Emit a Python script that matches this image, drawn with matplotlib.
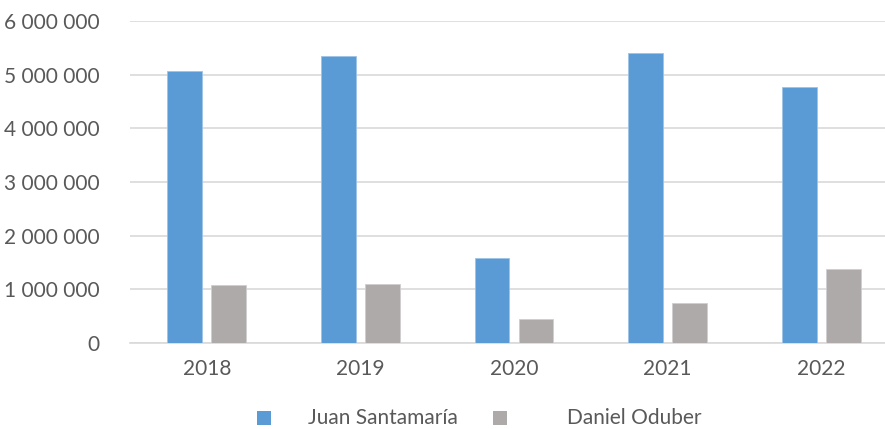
import matplotlib
matplotlib.use("Agg")
import matplotlib.pyplot as plt
from matplotlib.patches import Rectangle
from matplotlib.ticker import FuncFormatter, MultipleLocator
import numpy as np

years = ["2018", "2019", "2020", "2021", "2022"]
juan_santamaria = [5080000, 5360000, 1580000, 5400000, 4770000]
daniel_oduber = [1070000, 1100000, 440000, 750000, 1370000]
series_names = ["Juan Santamaría", "Daniel Oduber"]

blue = "#5B9BD5"
gray = "#AEAAAA"
txt = "#595959"
grid = "#D9D9D9"

plt.rcParams['font.family'] = ['Lato', 'DejaVu Sans']

fig = plt.figure(figsize=(8.85, 4.29), dpi=100)
ax = fig.add_axes([130/885, 86.3/429, 768/885, 321.4/429])

x = np.arange(len(years))
w = 0.226
ax.bar(x - 0.143, juan_santamaria, width=w, color=blue, edgecolor="#9DC3E6", linewidth=0.6, zorder=3)
ax.bar(x + 0.143, daniel_oduber, width=w, color=gray, edgecolor="#D0CECE", linewidth=0.6, zorder=3)

ax.set_xlim(-0.5, 4.5)
ax.set_ylim(0, 6000000)
ax.yaxis.set_major_locator(MultipleLocator(1000000))
ax.yaxis.set_major_formatter(FuncFormatter(lambda v, p: f"{int(v):,}".replace(",", " ")))
ax.set_xticks(x)
ax.set_xticklabels(years)
ax.grid(axis="y", color=grid, linewidth=1.2, zorder=0)
for s in ["top", "right", "left"]:
    ax.spines[s].set_visible(False)
ax.spines["bottom"].set_color(grid)
ax.spines["bottom"].set_linewidth(1.2)
ax.tick_params(axis="both", length=0, colors=txt, labelsize=15)
ax.tick_params(axis="y", pad=22)
ax.tick_params(axis="x", pad=12)

# legend
def fx(px):
    return px / 885
def fy(py):
    return 1 - py / 429

for (sx, tx, label, col) in [(256.7, 308, series_names[0], blue), (492.7, 566.7, series_names[1], gray)]:
    fig.patches.append(Rectangle((fx(sx), fy(424.7)), 14/885, 14/429, transform=fig.transFigure,
                                 facecolor=col, edgecolor="none"))
    fig.text(fx(tx), fy(417.5), label, color=txt, fontsize=15, va="center", ha="left")

fig.savefig("out.png", dpi=100)
